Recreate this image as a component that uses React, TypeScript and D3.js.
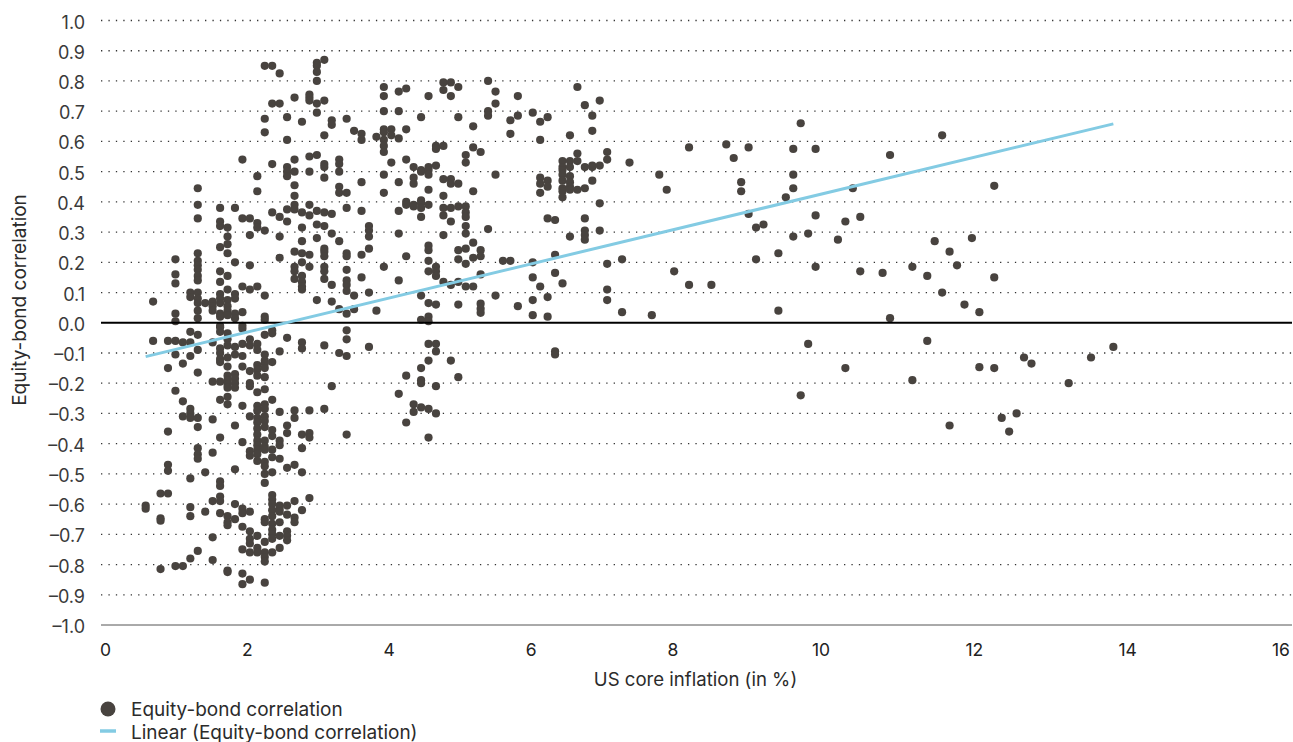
import * as d3 from "d3";
import React, { useEffect, useRef } from "react";

// inflation readings in %, one entry per column of dots in the scatter
const inflation = [
  0.6, 0.7, 0.8, 0.9, 1.0, 1.1, 1.2, 1.3, 1.4, 1.5, 1.6, 1.7, 1.8, 1.9, 2.0, 2.1, 2.2, 2.3, 2.4, 2.5,
  2.6, 2.7, 2.8, 2.9, 3.0, 3.1, 3.2, 3.3, 3.4, 3.5, 3.6, 3.7, 3.8, 3.9, 4.0, 4.1, 4.2, 4.3, 4.4, 4.5,
  4.6, 4.7, 4.8, 4.9, 5.0, 5.1, 5.2, 5.3, 5.4, 5.5, 5.6, 5.8, 5.9, 6.0, 6.1, 6.2, 6.3, 6.4, 6.5, 6.6,
  6.7, 6.8, 7.0, 7.1, 7.4, 7.5, 7.6, 7.7, 7.9, 8.2, 8.4, 8.5, 8.6, 8.7, 8.8, 8.9, 9.1, 9.2, 9.3, 9.4,
  9.5, 9.6, 9.9, 10.0, 10.1, 10.2, 10.5, 10.6, 10.9, 11.1, 11.2, 11.3, 11.4, 11.5, 11.6, 11.7, 11.8,
  12.0, 12.1, 12.2, 12.3, 12.4, 12.5, 13.0, 13.3, 13.6,
];

// correlation values, same order as inflation
const correlation = [
  [-0.605, -0.615],
  [0.07, -0.06],
  [-0.565, -0.647, -0.655, -0.815],
  [-0.06, -0.15, -0.36, -0.47, -0.49, -0.565],
  [0.21, 0.16, 0.13, 0.03, 0.005, -0.06, -0.105, -0.225, -0.805],
  [-0.065, -0.135, -0.26, -0.31, -0.805],
  [0.1, 0.085, -0.03, -0.065, -0.11, -0.285, -0.3, -0.315, -0.515, -0.61, -0.64, -0.78],
  [0.445, 0.39, 0.345, 0.23, 0.205, 0.19, 0.175, 0.155, 0.14, 0.1, 0.08, 0.065, 0.04, 0.015, -0.04, -0.09, -0.165, -0.315, -0.345, -0.415, -0.435, -0.45, -0.755],
  [0.065, -0.495, -0.625],
  [0.07, 0.055, 0.04, -0.065, -0.195, -0.32, -0.43, -0.59, -0.71, -0.785],
  [0.38, 0.335, 0.32, 0.25, 0.17, 0.135, 0.095, 0.08, 0.065, 0.03, 0.02, -0.01, -0.015, -0.03, -0.085, -0.1, -0.12, -0.13, -0.195, -0.255, -0.38, -0.525, -0.54, -0.575, -0.59, -0.63],
  [0.315, 0.285, 0.26, 0.23, 0.155, 0.11, 0.075, 0.055, 0.04, 0.025, -0.035, -0.055, -0.075, -0.115, -0.145, -0.175, -0.19, -0.205, -0.215, -0.245, -0.27, -0.64, -0.66, -0.67, -0.82, -0.825],
  [0.38, 0.2, 0.095, 0.08, 0.03, 0.015, -0.08, -0.105, -0.17, -0.185, -0.2, -0.215, -0.34, -0.485, -0.6, -0.65],
  [0.54, 0.345, 0.12, 0.035, -0.01, -0.02, -0.07, -0.11, -0.145, -0.275, -0.395, -0.615, -0.63, -0.675, -0.75, -0.83, -0.865],
  [0.345, 0.29, 0.19, 0.11, -0.055, -0.075, -0.16, -0.2, -0.21, -0.31, -0.425, -0.44, -0.625, -0.69, -0.715, -0.73, -0.76, -0.85],
  [0.485, 0.435, 0.33, 0.315, 0.12, -0.07, -0.09, -0.14, -0.155, -0.175, -0.23, -0.275, -0.29, -0.315, -0.33, -0.35, -0.37, -0.39, -0.405, -0.42, -0.435, -0.457, -0.705, -0.745, -0.76],
  [0.85, 0.675, 0.63, 0.305, 0.09, 0.02, 0.01, -0.04, -0.105, -0.125, -0.135, -0.15, -0.18, -0.22, -0.27, -0.285, -0.31, -0.325, -0.345, -0.39, -0.41, -0.42, -0.46, -0.475, -0.5, -0.53, -0.65, -0.66, -0.725, -0.76, -0.775, -0.79, -0.86],
  [0.85, 0.725, 0.525, 0.365, -0.025, -0.035, -0.13, -0.255, -0.355, -0.375, -0.42, -0.445, -0.495, -0.57, -0.585, -0.6, -0.62, -0.64, -0.665, -0.685, -0.7, -0.715, -0.76],
  [0.825, 0.725, 0.35, 0.285, 0.215, -0.095, -0.295, -0.39, -0.405, -0.45, -0.605, -0.615, -0.625, -0.66, -0.705, -0.745],
  [0.68, 0.605, 0.515, 0.5, 0.485, 0.375, 0.335, -0.05, -0.34, -0.365, -0.48, -0.605, -0.635, -0.69, -0.705, -0.72],
  [0.745, 0.54, 0.5, 0.455, 0.42, 0.39, 0.375, 0.235, 0.185, 0.17, 0.145, -0.29, -0.315, -0.47, -0.59, -0.645, -0.66],
  [0.665, 0.365, 0.315, 0.27, 0.23, 0.2, 0.155, 0.135, 0.12, 0.11, -0.065, -0.085, -0.37, -0.415, -0.495, -0.62],
  [0.755, 0.745, 0.735, 0.55, 0.5, 0.39, 0.355, 0.225, 0.185, -0.29, -0.365, -0.38, -0.58],
  [0.86, 0.85, 0.83, 0.8, 0.725, 0.695, 0.555, 0.37, 0.325, 0.28, 0.075],
  [0.87, 0.735, 0.62, 0.525, 0.515, 0.48, 0.365, 0.32, 0.245, 0.235, 0.22, 0.185, 0.17, 0.145, -0.075, -0.285],
  [0.67, 0.655, 0.36, 0.295, 0.125, 0.07, -0.21],
  [0.54, 0.525, 0.5, 0.45, 0.43, 0.27, 0.045, -0.1],
  [0.675, 0.43, 0.38, 0.23, 0.22, 0.175, 0.14, 0.125, 0.105, 0.03, -0.025, -0.055, -0.11, -0.37],
  [0.635, 0.09, 0.045],
  [0.625, 0.605, 0.465, 0.37, 0.225, 0.15],
  [0.32, 0.305, 0.285, 0.245, 0.1, -0.08],
  [0.615, 0.04],
  [0.78, 0.75, 0.7, 0.64, 0.63, 0.605, 0.585, 0.565, 0.49, 0.43, 0.185],
  [0.64, 0.62, 0.53],
  [0.765, 0.7, 0.61, 0.465, 0.37, 0.295, 0.14, -0.235],
  [0.775, 0.64, 0.54, 0.4, 0.39, 0.22, -0.175, -0.33],
  [0.515, 0.48, 0.46, 0.39, 0.385, -0.27, -0.295],
  [0.68, 0.505, 0.5, 0.405, 0.395, 0.38, 0.35, 0.09, 0.01, -0.15, -0.19, -0.2, -0.28],
  [0.75, 0.515, 0.505, 0.49, 0.44, 0.39, 0.255, 0.24, 0.205, 0.17, 0.065, 0.02, 0.005, -0.07, -0.125, -0.285, -0.38],
  [0.585, 0.575, 0.52, 0.185, 0.17, 0.155, 0.06, -0.07, -0.095, -0.21, -0.3],
  [0.795, 0.77, 0.585, 0.475, 0.42, 0.38, 0.355, 0.29, 0.135],
  [0.795, 0.75, 0.475, 0.46, 0.38, 0.335, 0.125, -0.125],
  [0.78, 0.68, 0.46, 0.385, 0.24, 0.21, 0.135, 0.06, -0.18],
  [0.555, 0.53, 0.385, 0.365, 0.35, 0.32, 0.295, 0.245, 0.195, 0.12],
  [0.65, 0.58, 0.435, 0.265, 0.215, 0.12],
  [0.565, 0.24, 0.22, 0.16, 0.063, 0.046, 0.033],
  [0.8, 0.7, 0.685, 0.31],
  [0.765, 0.725, 0.49, 0.09],
  [0.205],
  [0.67, 0.625, 0.205],
  [0.75, 0.685, 0.055],
  [0.695, 0.2, 0.15, 0.075, 0.025],
  [0.665, 0.605, 0.48, 0.46, 0.43, 0.12],
  [0.68, 0.47, 0.45, 0.345, 0.085, 0.02],
  [0.34, 0.225, 0.165, -0.095, -0.105],
  [0.535, 0.515, 0.505, 0.49, 0.47, 0.445, 0.435, 0.415, 0.13],
  [0.62, 0.535, 0.515, 0.485, 0.465, 0.45, 0.44, 0.285],
  [0.78, 0.56, 0.535, 0.44],
  [0.72, 0.515, 0.445, 0.345, 0.305, 0.29, 0.275],
  [0.685, 0.635, 0.52, 0.515, 0.47],
  [0.735, 0.52, 0.395, 0.305],
  [0.565, 0.54, 0.195, 0.11, 0.075],
  [0.21, 0.035],
  [0.53],
  [0.025],
  [0.49],
  [0.44],
  [0.17],
  [0.58, 0.125],
  [0.125],
  [0.59],
  [0.545],
  [0.465, 0.435],
  [0.58, 0.36],
  [0.315, 0.21],
  [0.325],
  [0.23, 0.04],
  [0.415],
  [0.575, 0.49, 0.445, 0.285],
  [0.66, -0.24],
  [0.295, -0.07],
  [0.575, 0.355, 0.185],
  [0.275],
  [0.335, -0.15],
  [0.445],
  [0.35, 0.17],
  [0.165],
  [0.555, 0.015],
  [0.185, -0.19],
  [0.155, -0.06],
  [0.27],
  [0.62, 0.1],
  [0.235, -0.34],
  [0.19],
  [0.06],
  [0.28],
  [0.035, -0.147],
  [0.453, 0.15, -0.15],
  [-0.315],
  [-0.36],
  [-0.3],
  [-0.115],
  [-0.135],
  [-0.2],
  [-0.115],
  [-0.08],
];

const trendX = [0.6, 13.6];
const trendY = [-0.112, 0.658];

const yTicks = d3.range(-10, 11).map(d => d / 10);
const xLabels = [0, 2, 4, 6, 8, 10, 12, 14, 16];

const width = 1293;
const height = 742;
const margin = { left: 101, right: 1, top: 20.5, bottom: 117 };
const dark = "#48433f";
const blue = "#83cbe3";
const font = "Inter, sans-serif";

export default function App() {
  const svgRef = useRef<SVGSVGElement>(null);

  useEffect(() => {
    const svg = d3.select(svgRef.current);
    svg.selectAll("*").remove();

    const x = d3.scaleLinear().domain([0, 16]).range([margin.left, width - margin.right]);
    const y = d3.scaleLinear().domain([-1, 1]).range([height - margin.bottom, margin.top]);
    // the tick labels in the source were nudged by hand and don't sit on the true scale
    const xLabelPos = d3.scaleLinear().domain([0, 8, 10, 16]).range([105.5, 673, 821, 1281]);

    const yAxis = svg.append("g")
      .attr("transform", `translate(${margin.left},0)`)
      .call(d3.axisLeft(y).tickValues(yTicks).tickSize(0).tickPadding(16)
        .tickFormat(d => d3.format(".1f")(+d).replace("-", "\u2013").replace("\u2212", "\u2013")));
    yAxis.select(".domain").remove();
    yAxis.selectAll(".tick text")
      .attr("font-family", font)
      .attr("font-size", 18)
      .attr("dy", "0.42em")
      .attr("fill", "#3a3a3a");

    svg.append("g")
      .selectAll("line")
      .data(yTicks.filter(d => d !== 0 && d !== -1))
      .join("line")
      .attr("x1", margin.left)
      .attr("x2", width - margin.right)
      .attr("y1", d => y(d))
      .attr("y2", d => y(d))
      .attr("stroke", "#333")
      .attr("stroke-width", 1.3)
      .attr("stroke-dasharray", "1.3 6.13");

    svg.append("line")
      .attr("x1", margin.left).attr("x2", width - margin.right)
      .attr("y1", y(-1)).attr("y2", y(-1))
      .attr("stroke", "#555").attr("stroke-width", 1);

    const points = inflation.flatMap((v, i) => correlation[i].map(c => ({ v, c })));
    svg.append("g")
      .selectAll("circle")
      .data(points)
      .join("circle")
      .attr("cx", d => x(d.v))
      .attr("cy", d => y(d.c))
      .attr("r", 4.1)
      .attr("fill", dark);

    svg.append("line")
      .attr("x1", margin.left).attr("x2", width - margin.right)
      .attr("y1", y(0)).attr("y2", y(0))
      .attr("stroke", "#000").attr("stroke-width", 2);

    const trend = d3.line<number>().x(d => x(d)).y((d, i) => y(trendY[i]));
    svg.append("path")
      .attr("d", trend(trendX))
      .attr("fill", "none")
      .attr("stroke", blue)
      .attr("stroke-width", 3);

    svg.append("g")
      .selectAll("text")
      .data(xLabels)
      .join("text")
      .attr("x", d => xLabelPos(d))
      .attr("y", 655.5)
      .attr("text-anchor", "middle")
      .attr("font-family", font)
      .attr("font-size", 17.5)
      .attr("fill", "#222")
      .text(d => d);

    const label = (txt: string, px: number, py: number, anchor = "start", size = 19) =>
      svg.append("text")
        .attr("x", px).attr("y", py)
        .attr("text-anchor", anchor)
        .attr("font-family", font)
        .attr("font-size", size)
        .attr("fill", "#2b2b2b")
        .text(txt);

    label("US core inflation (in %)", 695.5, 685.5, "middle", 18.6);
    label("Equity-bond correlation", 0, 0, "middle")
      .attr("transform", "translate(26,300) rotate(-90)");

    // legend
    svg.append("circle").attr("cx", 108).attr("cy", 709).attr("r", 7.5).attr("fill", dark);
    svg.append("line")
      .attr("x1", 100).attr("x2", 116).attr("y1", 731).attr("y2", 731)
      .attr("stroke", blue).attr("stroke-width", 3.5);
    label("Equity-bond correlation", 131, 715.5);
    label("Linear (Equity-bond correlation)", 131, 738.5);
  }, []);

  return (
    <svg
      ref={svgRef}
      width={width}
      height={height}
      style={{ position: "absolute", left: 0, top: 0, background: "#fff" }}
    />
  );
}
